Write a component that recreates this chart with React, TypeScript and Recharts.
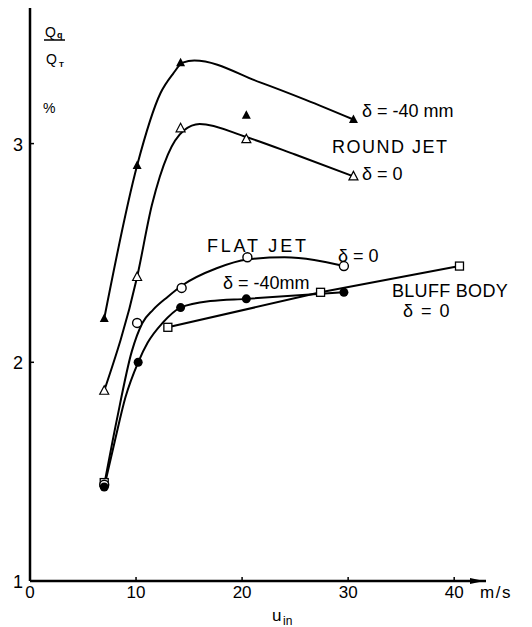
import { ComposedChart, Line, Scatter, XAxis, YAxis } from 'recharts';

// measured points (u_in in m/s, Qq/QT in %)
const roundJetM40Pts = [
  { x: 7, y: 2.2 },
  { x: 10.1, y: 2.9 },
  { x: 14.2, y: 3.37 },
  { x: 20.4, y: 3.13 },
  { x: 30.5, y: 3.11 },
];
const roundJet0Pts = [
  { x: 7, y: 1.87 },
  { x: 10.1, y: 2.39 },
  { x: 14.2, y: 3.07 },
  { x: 20.4, y: 3.02 },
  { x: 30.5, y: 2.85 },
];
const flatJet0Pts = [
  { x: 7, y: 1.44 },
  { x: 10.1, y: 2.18 },
  { x: 14.3, y: 2.34 },
  { x: 20.5, y: 2.48 },
  { x: 29.6, y: 2.44 },
];
const flatJetM40Pts = [
  { x: 7, y: 1.43 },
  { x: 10.2, y: 2.0 },
  { x: 14.2, y: 2.25 },
  { x: 20.4, y: 2.29 },
  { x: 29.6, y: 2.32 },
];
const bluffPts = [
  { x: 7, y: 1.45 },
  { x: 13, y: 2.16 },
  { x: 27.4, y: 2.32 },
  { x: 40.5, y: 2.44 },
];

// faired curves
const roundJetM40Curve = [
  { x: 7, y: 2.2 },
  { x: 10.1, y: 2.9 },
  { x: 12.3, y: 3.23 },
  { x: 13.5, y: 3.32 },
  { x: 14.4, y: 3.37 },
  { x: 15.5, y: 3.38 },
  { x: 21.7, y: 3.28 },
  { x: 26, y: 3.2 },
  { x: 30.5, y: 3.11 },
];
const roundJet0Curve = [
  { x: 7, y: 1.87 },
  { x: 10.1, y: 2.39 },
  { x: 11.5, y: 2.72 },
  { x: 13, y: 2.95 },
  { x: 14.5, y: 3.06 },
  { x: 16, y: 3.09 },
  { x: 20.4, y: 3.03 },
  { x: 25, y: 2.95 },
  { x: 30.5, y: 2.85 },
];
const flatJet0Curve = [
  { x: 7, y: 1.44 },
  { x: 8.2, y: 1.74 },
  { x: 9.6, y: 2.05 },
  { x: 10.6, y: 2.18 },
  { x: 11.6, y: 2.24 },
  { x: 13, y: 2.3 },
  { x: 14.3, y: 2.35 },
  { x: 17.6, y: 2.43 },
  { x: 20.5, y: 2.47 },
  { x: 24, y: 2.48 },
  { x: 29.6, y: 2.44 },
];
const flatJetM40Curve = [
  { x: 7, y: 1.43 },
  { x: 8, y: 1.64 },
  { x: 9, y: 1.84 },
  { x: 10.2, y: 2.0 },
  { x: 11.1, y: 2.09 },
  { x: 12.5, y: 2.18 },
  { x: 14.2, y: 2.25 },
  { x: 17, y: 2.28 },
  { x: 20.4, y: 2.29 },
  { x: 29.6, y: 2.32 },
];
const bluffCurve = [
  { x: 13, y: 2.16 },
  { x: 27.4, y: 2.32 },
  { x: 40.5, y: 2.44 },
];

const xTicks = [0, 10, 20, 30, 40];
const yTicks = [1, 2, 3];

const FONT = '"Liberation Sans", Arial, sans-serif';

const FilledTri = (p: any) => (
  <polygon points={`${p.cx},${p.cy - 5} ${p.cx - 4.5},${p.cy + 3.5} ${p.cx + 4.5},${p.cy + 3.5}`} fill="#000" />
);
const OpenTri = (p: any) => (
  <polygon points={`${p.cx},${p.cy - 5} ${p.cx - 4.5},${p.cy + 3.5} ${p.cx + 4.5},${p.cy + 3.5}`} fill="#fff" stroke="#000" strokeWidth={1.2} />
);
const OpenCircle = (p: any) => <circle cx={p.cx} cy={p.cy} r={4.5} fill="#fff" stroke="#000" strokeWidth={1.4} />;
const FilledCircle = (p: any) => <circle cx={p.cx} cy={p.cy} r={4.5} fill="#000" />;
const OpenSquare = (p: any) => (
  <rect x={p.cx - 4} y={p.cy - 4} width={8} height={8} fill="#fff" stroke="#000" strokeWidth={1.3} />
);

const XTick = (p: any) => (
  <g>
    {p.payload.value !== 0 && <line x1={p.x} y1={p.y} x2={p.x} y2={p.y - 4} stroke="#000" strokeWidth={1.5} />}
    <text x={p.x} y={p.y + 17} textAnchor="middle" fontSize={17} fontFamily={FONT} fill="#000">
      {p.payload.value}
    </text>
  </g>
);
const YTick = (p: any) => (
  <g>
    {p.payload.value !== 1 && <line x1={p.x} y1={p.y} x2={p.x + 4} y2={p.y} stroke="#000" strokeWidth={1.5} />}
    <text x={p.x - 7} y={p.y + 7} textAnchor="end" fontSize={18} fontFamily={FONT} fill="#000">
      {p.payload.value}
    </text>
  </g>
);

const lineProps = { type: 'monotone' as const, dataKey: 'y', stroke: '#000', strokeWidth: 2, dot: false, isAnimationActive: false };

export default function App() {
  return (
    <div style={{ position: 'absolute', left: 0, top: 0, width: 532, height: 627, background: '#fff' }}>
      <ComposedChart width={532} height={627} margin={{ top: 8, right: 46, bottom: 0, left: 0 }}>
        <XAxis
          type="number"
          dataKey="x"
          domain={[0, 43]}
          ticks={xTicks}
          allowDataOverflow
          height={46}
          tickSize={0}
          tickMargin={0}
          tick={<XTick />}
          axisLine={{ stroke: '#000', strokeWidth: 2.5 }}
          tickLine={false}
        />
        <YAxis
          type="number"
          dataKey="y"
          domain={[1, 3.62]}
          ticks={yTicks}
          allowDataOverflow
          width={30}
          tickSize={0}
          tickMargin={0}
          tick={<YTick />}
          axisLine={{ stroke: '#000', strokeWidth: 2.5 }}
          tickLine={false}
        />
        <Line data={roundJetM40Curve} {...lineProps} />
        <Line data={roundJet0Curve} {...lineProps} />
        <Line data={flatJet0Curve} {...lineProps} />
        <Line data={flatJetM40Curve} {...lineProps} />
        <Line data={bluffCurve} {...lineProps} type="linear" />
        <Scatter data={bluffPts} dataKey="y" shape={<OpenSquare />} isAnimationActive={false} />
        <Scatter data={flatJet0Pts} dataKey="y" shape={<OpenCircle />} isAnimationActive={false} />
        <Scatter data={flatJetM40Pts} dataKey="y" shape={<FilledCircle />} isAnimationActive={false} />
        <Scatter data={roundJet0Pts} dataKey="y" shape={<OpenTri />} isAnimationActive={false} />
        <Scatter data={roundJetM40Pts} dataKey="y" shape={<FilledTri />} isAnimationActive={false} />
      </ComposedChart>
      <svg width={532} height={627} style={{ position: 'absolute', left: 0, top: 0, pointerEvents: 'none' }} fontFamily={FONT} fill="#000">
        <polygon points="470,578 484,581 470,584" fill="#000" />
        <text x={45} y={37} fontSize={14}>Q</text>
        <text x={57} y={38} fontSize={9} fontWeight="bold">q</text>
        <line x1={44} y1={40} x2={65} y2={40} stroke="#000" strokeWidth={1.5} />
        <text x={46} y={64} fontSize={14}>Q</text>
        <text x={59} y={67} fontSize={8} fontWeight="bold">T</text>
        <text x={43} y={113} fontSize={14}>%</text>
        <text x={362} y={117} fontSize={18}>δ = -40 mm</text>
        <text x={332} y={153} fontSize={18} letterSpacing={1.5}>ROUND JET</text>
        <text x={362} y={180} fontSize={18}>δ = 0</text>
        <text x={207} y={252} fontSize={18} letterSpacing={2.8}>FLAT JET</text>
        <text x={338} y={262} fontSize={18}>δ = 0</text>
        <text x={223} y={289} fontSize={18}>δ = -40mm</text>
        <text x={392} y={297} fontSize={18} letterSpacing={0.3}>BLUFF BODY</text>
        <text x={403} y={317} fontSize={18} letterSpacing={1.5}>δ = 0</text>
        <text x={480} y={598} fontSize={17} letterSpacing={1.5}>m/s</text>
        <text x={272} y={621} fontSize={17}>u</text>
        <text x={283} y={625} fontSize={12}>in</text>
      </svg>
    </div>
  );
}
